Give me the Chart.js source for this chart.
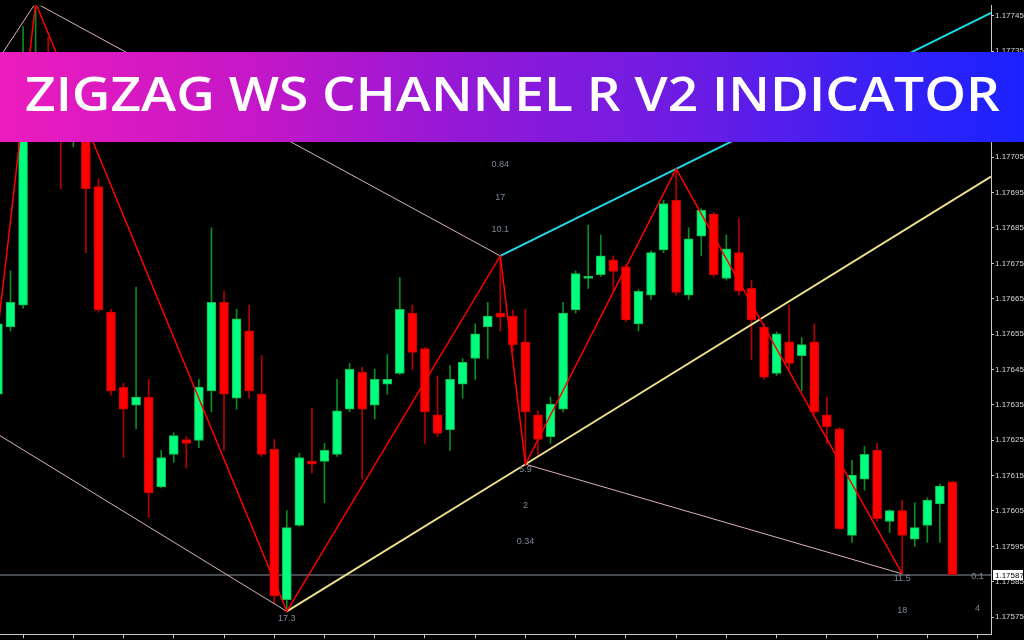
<!DOCTYPE html>
<html><head><meta charset="utf-8">
<script src="https://cdn.jsdelivr.net/npm/chart.js@4.4.1/dist/chart.umd.min.js"></script>
<style>
html,body{margin:0;padding:0;background:#000;width:1024px;height:640px;overflow:hidden;}
#wrap{position:relative;width:1024px;height:640px;}
#c{position:absolute;left:0;top:0;}
#banner{position:absolute;left:0;top:52px;width:1024px;height:90px;
 background:linear-gradient(90deg,#ec1cbd 0%,#c417c7 25%,#9418d6 45%,#6a1ce4 68%,#3a20f4 85%,#1a22ff 100%);}
#title{position:absolute;left:25px;top:18px;color:#fff;font-family:'Open Sans','Lato',sans-serif;
 font-weight:600;font-size:47px;line-height:47px;white-space:nowrap;transform-origin:0 50%;}
</style></head>
<body><div id="wrap">
<canvas id="c" width="1024" height="640"></canvas>
<div id="banner"><span id="title">ZIGZAG WS CHANNEL R V2 INDICATOR</span></div>
</div>
<script>
// ---- data ----
const candleIdx = [-1,0,1,2,3,4,5,6,7,8,9,10,11,12,13,14,15,16,17,18,19,20,21,22,23,24,25,26,27,28,29,30,31,32,33,34,35,36,37,38,39,40,41,42,43,44,45,46,47,48,49,50,51,52,53,54,55,56,57,58,59,60,61,62,63,64,65,66,67,68,69,70,71,72,73,74,75];
const openP = [1.176380,1.176570,1.176632,1.177241,1.177338,1.177199,1.177101,1.177171,1.176967,1.176612,1.176400,1.176349,1.176372,1.176118,1.176210,1.176252,1.176249,1.176389,1.176640,1.176369,1.176559,1.176380,1.176224,1.175799,1.176009,1.176190,1.176190,1.176210,1.176338,1.176442,1.176349,1.176408,1.176439,1.176609,1.176509,1.176322,1.176280,1.176408,1.176481,1.176570,1.176609,1.176601,1.176528,1.176322,1.176260,1.176338,1.176618,1.176707,1.176718,1.176760,1.176741,1.176579,1.176660,1.176788,1.176928,1.176660,1.176827,1.176889,1.176707,1.176780,1.176679,1.176570,1.176439,1.176528,1.176489,1.176528,1.176322,1.176282,1.175981,1.176140,1.176221,1.176020,1.176051,1.175970,1.176009,1.176070,1.176132];
const highP = [1.176598,1.176729,1.177419,1.177486,1.177389,1.177255,1.177213,1.177199,1.176989,1.176620,1.176411,1.176682,1.176422,1.176221,1.176271,1.176260,1.176422,1.176850,1.176671,1.176620,1.176632,1.176489,1.176252,1.176051,1.176213,1.176341,1.176241,1.176422,1.176467,1.176456,1.176450,1.176492,1.176710,1.176632,1.176512,1.176431,1.176461,1.176481,1.176579,1.176640,1.176771,1.176618,1.176620,1.176333,1.176372,1.176640,1.176729,1.176858,1.176830,1.176771,1.176746,1.176676,1.176785,1.176928,1.177017,1.176850,1.176905,1.176894,1.176830,1.176877,1.176702,1.176579,1.176556,1.176632,1.176540,1.176579,1.176372,1.176285,1.176193,1.176232,1.176241,1.176053,1.176081,1.176073,1.176087,1.176126,1.176132];
const lowP = [1.176366,1.176559,1.176623,1.177185,1.177115,1.176961,1.177079,1.176780,1.176612,1.176377,1.176201,1.176282,1.176031,1.176115,1.176187,1.176171,1.176229,1.176330,1.176221,1.176338,1.176369,1.176204,1.175788,1.175766,1.176006,1.176157,1.176073,1.176204,1.176330,1.176140,1.176310,1.176380,1.176436,1.176450,1.176241,1.176260,1.176221,1.176369,1.176422,1.176481,1.176559,1.176500,1.176182,1.176207,1.176241,1.176330,1.176609,1.176679,1.176713,1.176674,1.176584,1.176559,1.176648,1.176780,1.176660,1.176648,1.176771,1.176713,1.176702,1.176660,1.176478,1.176422,1.176433,1.176450,1.176389,1.176324,1.176241,1.175998,1.175961,1.176109,1.176020,1.175989,1.175872,1.175950,1.175961,1.175961,1.175870];
const closeP = [1.176579,1.176640,1.177283,1.177324,1.177157,1.177115,1.177185,1.176961,1.176618,1.176389,1.176338,1.176372,1.176101,1.176201,1.176263,1.176241,1.176400,1.176640,1.176380,1.176593,1.176389,1.176210,1.175810,1.176003,1.176201,1.176182,1.176221,1.176333,1.176450,1.176338,1.176422,1.176422,1.176620,1.176498,1.176330,1.176269,1.176422,1.176470,1.176551,1.176601,1.176598,1.176520,1.176330,1.176252,1.176352,1.176609,1.176721,1.176713,1.176771,1.176727,1.176590,1.176671,1.176780,1.176919,1.176668,1.176819,1.176900,1.176718,1.176791,1.176671,1.176590,1.176428,1.176551,1.176467,1.176520,1.176330,1.176288,1.176000,1.176151,1.176210,1.176028,1.176051,1.175981,1.176003,1.176081,1.176120,1.175870];

const zigzagIdx   = [-2, 2, 22, 39, 41, 53, 71];
const zigzagPrice = [1.176255, 1.177486, 1.175766, 1.176771, 1.176182, 1.177017, 1.175872];
const upperIdx   = [39, 53, 78.07];
const upperPrice = [1.176771, 1.177017, 1.177458];
const lowerIdx   = [22, 41, 78.07];
const lowerPrice = [1.175766, 1.176182, 1.176995];
const rosyA_Idx = [-2, 2],   rosyA_Price = [1.177271, 1.177486];
const rosyB_Idx = [2, 39],   rosyB_Price = [1.177486, 1.176771];
const rosyC_Idx = [-2, 22],  rosyC_Price = [1.176288, 1.175766];
const rosyD_Idx = [41, 71],  rosyD_Price = [1.176182, 1.175872];

const currentPrice = 1.17587;
const yTicks = [1.17745,1.17735,1.17725,1.17715,1.17705,1.17695,1.17685,1.17675,1.17665,1.17655,1.17645,1.17635,1.17625,1.17615,1.17605,1.17595,1.17585,1.17575];
const xTicks = [1,5,9,13,17,21,25,29,33,37,41,45,49,53,57,61,65,69,73,77];

const labelIdx   = [39, 39, 39, 41, 41, 41, 22, 71, 71, 77, 77];
const labelPrice = [1.176771,1.176771,1.176771,1.176182,1.176182,1.176182,1.175766,1.175872,1.175872,1.17587,1.17587];
const labelText  = ['10.1','17','0.84','5.9','2','0.34','17.3','11.5','18','0.1','4'];

// ---- styling / layout ----
const labelDy = [-26,-58,-91,5,41,77,7,5,37,2,34];
const isUp = k => closeP[k] >= openP[k];
const pts = (ix, pr) => ix.map((v,k)=>({x:v, y:pr[k]}));

const overlay = {
  id:'overlay',
  beforeDatasetsDraw(chart){
    const {ctx, chartArea:a, scales:{y}} = chart;
    const py = Math.round(y.getPixelForValue(currentPrice));
    ctx.save(); ctx.strokeStyle='#454a50'; ctx.lineWidth=2;
    ctx.beginPath(); ctx.moveTo(a.left,py); ctx.lineTo(a.right,py); ctx.stroke(); ctx.restore();
  },
  afterDatasetsDraw(chart){
    const {ctx, scales:{x,y}} = chart;
    ctx.save(); ctx.fillStyle='#7b8797'; ctx.font='9px "Liberation Sans", Arial, sans-serif';
    ctx.textAlign='center'; ctx.textBaseline='middle';
    labelText.forEach((t,k)=>{
      ctx.fillText(t, x.getPixelForValue(labelIdx[k]), y.getPixelForValue(labelPrice[k]) + labelDy[k]);
    });
    ctx.restore();
  },
  afterDraw(chart){
    const {ctx, chartArea:a, scales:{y}} = chart;
    const py = Math.round(y.getPixelForValue(currentPrice));
    ctx.save(); ctx.fillStyle='#ffffff'; ctx.fillRect(a.right+2, py-5, 30, 10);
    ctx.fillStyle='#000'; ctx.font='8px "Liberation Sans", Arial, sans-serif';
    ctx.textAlign='left'; ctx.textBaseline='middle';
    ctx.fillText(currentPrice.toFixed(5), a.right+4, py+0.5);
    ctx.restore();
  }
};

const lineDs = (data, color, w, order) => ({type:'line', data, borderColor:color, borderWidth:w,
  pointRadius:0, tension:0, fill:false, order});

new Chart(document.getElementById('c'), {
  type:'bar',
  data:{datasets:[
    lineDs(pts(zigzagIdx, zigzagPrice), '#ff0000', 1.5, 0),
    lineDs(pts(upperIdx, upperPrice), '#22d8e8', 2, 0),
    lineDs(pts(lowerIdx, lowerPrice), '#ece08c', 2, 0),
    lineDs(pts(rosyA_Idx, rosyA_Price), '#d9b3b3', 1, 1),
    lineDs(pts(rosyB_Idx, rosyB_Price), '#d9b3b3', 1, 1),
    lineDs(pts(rosyC_Idx, rosyC_Price), '#d9b3b3', 1, 1),
    lineDs(pts(rosyD_Idx, rosyD_Price), '#d9b3b3', 1, 1),
    {type:'bar', data: candleIdx.map((v,k)=>({x:v, y:[openP[k], closeP[k]]})),
     backgroundColor: c => (c.dataIndex!==undefined && isUp(c.dataIndex)) ? '#00ff7f' : '#ff0000',
     borderColor: c => (c.dataIndex!==undefined && isUp(c.dataIndex)) ? '#14b848' : '#c80000',
     borderWidth:1, borderSkipped:false, barThickness:9, grouped:false, order:2},
    {type:'bar', data: candleIdx.map((v,k)=>({x:v, y:[lowP[k], highP[k]]})),
     backgroundColor: c => (c.dataIndex!==undefined && isUp(c.dataIndex)) ? '#0a8c1e' : '#b40000',
     borderWidth:0, barThickness:1, grouped:false, order:3}
  ]},
  options:{
    responsive:false, animation:false, devicePixelRatio:1,
    layout:{padding:0},
    plugins:{legend:{display:false}, tooltip:{enabled:false}, title:{display:false}},
    scales:{
      x:{type:'linear', min:-0.836, max:78.07, offset:false,
         grid:{offset:false, drawOnChartArea:false, color:'#c8c8c8', tickLength:4},
         border:{color:'#c8c8c8', width:1},
         ticks:{display:false},
         afterBuildTicks: s => { s.ticks = xTicks.map(v=>({value:v})); },
         afterFit: s => { s.height = 4; }},
      y:{type:'linear', position:'right', min:1.1757015, max:1.177478, beginAtZero:false,
         grid:{drawOnChartArea:false, color:'#c8c8c8', tickLength:3},
         border:{color:'#c8c8c8', width:1},
         ticks:{color:'#d8d8d8', padding:1, autoSkip:false,
                font:{family:'"Liberation Sans", Arial, sans-serif', size:8},
                callback: v => Number(v).toFixed(5)},
         afterBuildTicks: s => { s.ticks = yTicks.map(v=>({value:v})); },
         afterFit: s => { s.width = 33; }}
    }
  },
  plugins:[overlay]
});

// fit banner title to its width
function fitTitle(){
  const t = document.getElementById('title');
  t.style.transform = 'none';
  const w = t.getBoundingClientRect().width;
  t.style.transform = 'scaleX(' + (975 / w) + ')';
}
fitTitle();
if (document.fonts && document.fonts.ready) document.fonts.ready.then(fitTitle);
</script>
</body></html>
